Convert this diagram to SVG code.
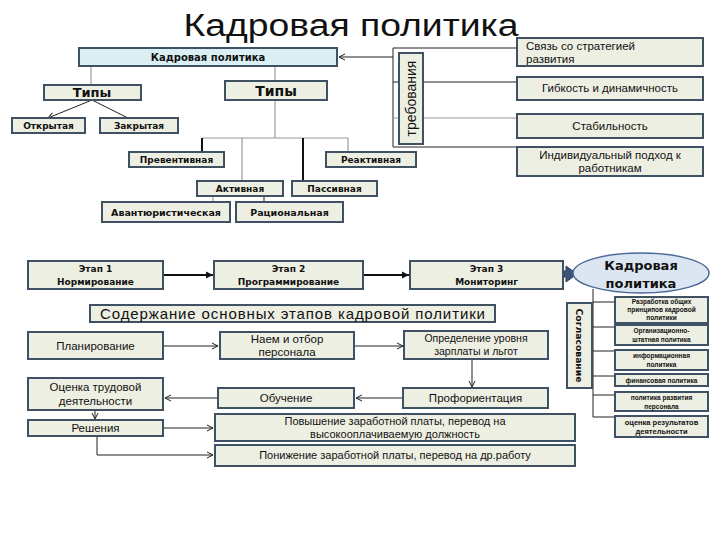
<svg xmlns="http://www.w3.org/2000/svg" width="720" height="540" viewBox="0 0 720 540">
<style>
.bx{fill:#eeefe3;stroke:#3f5163;stroke-width:2}
.bl{fill:#dbeef3;stroke:#3f5163;stroke-width:2}
.d{font-family:"DejaVu Sans",Verdana,sans-serif;font-weight:bold;fill:#111;text-anchor:middle}
.s{font-family:"Liberation Sans",Arial,sans-serif;fill:#111;text-anchor:middle}
.sl{font-family:"Liberation Sans",Arial,sans-serif;fill:#111;text-anchor:start}
.sb{font-family:"Liberation Sans",Arial,sans-serif;font-weight:bold;fill:#111;text-anchor:middle}
.ln{stroke:#222;stroke-width:1;fill:none}
.lg{stroke:#9a9a9a;stroke-width:1.2;fill:none}
.lk{stroke:#111;stroke-width:2;fill:none}
</style>
<defs>
<marker id="ao" markerWidth="8" markerHeight="8" refX="7" refY="4" orient="auto" markerUnits="userSpaceOnUse">
<path d="M1,1 L7,4 L1,7" fill="none" stroke="#222" stroke-width="1"/>
</marker>
<marker id="af" markerWidth="8" markerHeight="8" refX="7" refY="4" orient="auto" markerUnits="userSpaceOnUse">
<path d="M0,0.5 L7,4 L0,7.5 Z" fill="#111"/>
</marker>
</defs>
<rect width="720" height="540" fill="#fff"/>
<text x="351" y="36" font-family="Liberation Sans, Arial, sans-serif" font-size="31" fill="#111" text-anchor="middle" textLength="335" lengthAdjust="spacingAndGlyphs">Кадровая политика</text>

<g id="connectors">
<line class="lg" x1="91" y1="66" x2="91" y2="85"/>
<line class="ln" x1="92" y1="100" x2="48" y2="118" marker-end="url(#ao)"/>
<line class="ln" x1="92" y1="100" x2="128" y2="118"/>
<line class="lg" x1="275" y1="66" x2="275" y2="81"/>
<line class="lg" x1="275" y1="100" x2="275" y2="138"/>
<line class="lg" x1="202" y1="138" x2="348" y2="138"/>
<line class="lk" x1="202" y1="138" x2="202" y2="152"/>
<line class="lg" x1="242" y1="138" x2="242" y2="181"/>
<line class="lk" x1="303" y1="138" x2="303" y2="181"/>
<line class="lg" x1="348" y1="138" x2="348" y2="152"/>
<line class="lg" x1="213" y1="196" x2="213" y2="202"/>
<line class="ln" x1="264" y1="196" x2="264" y2="202"/>
<line class="ln" x1="393" y1="57" x2="339" y2="57" marker-end="url(#ao)"/>
<line class="ln" x1="393" y1="48" x2="393" y2="147"/>
<line class="ln" x1="393" y1="48" x2="517" y2="48"/>
<line class="ln" x1="393" y1="82" x2="517" y2="82"/>
<line class="lg" x1="393" y1="118" x2="517" y2="118"/>
<line class="ln" x1="393" y1="147" x2="517" y2="147"/>
<line class="lk" x1="163" y1="275" x2="213" y2="275" marker-end="url(#af)"/>
<line class="lk" x1="363" y1="275" x2="409" y2="275" marker-end="url(#af)"/>
<polygon points="563,271 566,271 566,266 577,274 566,282 566,277 563,277" fill="#3a5478" stroke="#2c3e58" stroke-width="1"/>
<line class="ln" x1="163" y1="346" x2="218" y2="346" marker-end="url(#ao)"/>
<line class="ln" x1="354" y1="346" x2="403" y2="346" marker-end="url(#ao)"/>
<line class="ln" x1="472" y1="359" x2="472" y2="387" marker-end="url(#ao)"/>
<line class="ln" x1="403" y1="398" x2="356" y2="398" marker-end="url(#ao)"/>
<line class="ln" x1="218" y1="398" x2="165" y2="398" marker-end="url(#ao)"/>
<line class="ln" x1="95" y1="410" x2="95" y2="419" marker-end="url(#ao)"/>
<line class="ln" x1="163" y1="428" x2="213" y2="428" marker-end="url(#ao)"/>
<path class="ln" d="M97,436 V455 H213" marker-end="url(#ao)"/>
<line class="ln" x1="593" y1="289" x2="593" y2="417"/>
<line class="ln" x1="593" y1="302" x2="615" y2="302"/>
<line class="ln" x1="593" y1="327" x2="615" y2="327"/>
<line class="ln" x1="593" y1="351" x2="615" y2="351"/>
<line class="ln" x1="593" y1="376" x2="615" y2="376"/>
<line class="ln" x1="593" y1="395" x2="615" y2="395"/>
<line class="ln" x1="593" y1="417" x2="615" y2="417"/>
</g>

<g id="n-kp"><rect class="bl" x="79" y="48" width="258" height="18"/><text class="d" x="208" y="61" font-size="10">Кадровая политика</text></g>
<g id="n-tipy1"><rect class="bx" x="44" y="85" width="97" height="15"/><text class="d" x="92" y="97" font-size="13">Типы</text></g>
<g id="n-otkr"><rect class="bx" x="12" y="118" width="73" height="15"/><text class="d" x="48.5" y="129" font-size="9">Открытая</text></g>
<g id="n-zakr"><rect class="bx" x="100" y="118" width="78" height="15"/><text class="d" x="139" y="129" font-size="9">Закрытая</text></g>
<g id="n-tipy2"><rect class="bx" x="225" y="81" width="102" height="19"/><text class="d" x="276" y="96" font-size="14">Типы</text></g>
<g id="n-prev"><rect class="bx" x="129" y="152" width="95" height="15"/><text class="d" x="176.5" y="163" font-size="9">Превентивная</text></g>
<g id="n-reakt"><rect class="bx" x="326" y="152" width="90" height="15"/><text class="d" x="371" y="163" font-size="9">Реактивная</text></g>
<g id="n-akt"><rect class="bx" x="197" y="181" width="86" height="15"/><text class="d" x="240" y="192" font-size="9">Активная</text></g>
<g id="n-pass"><rect class="bx" x="292" y="181" width="85" height="15"/><text class="d" x="334.5" y="192" font-size="9">Пассивная</text></g>
<g id="n-avant"><rect class="bx" x="102" y="202" width="128" height="20"/><text class="d" x="166" y="216" font-size="9.5">Авантюристическая</text></g>
<g id="n-rac"><rect class="bx" x="236" y="202" width="107" height="20"/><text class="d" x="289.5" y="216" font-size="9.5">Рациональная</text></g>

<g id="n-treb"><rect class="bx" x="399" y="53" width="24" height="91"/><text class="s" transform="translate(416,98.5) rotate(-90)" font-size="14">требования</text></g>
<g id="n-svyaz"><rect class="bx" x="517" y="38" width="186" height="28"/><text class="sl" x="526" y="50" font-size="11.5">Связь со стратегией</text><text class="sl" x="526" y="63" font-size="11.5">развития</text></g>
<g id="n-gibk"><rect class="bx" x="517" y="77" width="186" height="23"/><text class="s" x="610" y="92" font-size="11.5">Гибкость и динамичность</text></g>
<g id="n-stab"><rect class="bx" x="517" y="114" width="186" height="24"/><text class="s" x="610" y="130" font-size="11.5">Стабильность</text></g>
<g id="n-ind"><rect class="bx" x="517" y="147" width="186" height="29"/><text class="s" x="610" y="159" font-size="11.5">Индивидуальный подход к</text><text class="s" x="610" y="172" font-size="11.5">работникам</text></g>

<g id="n-etap1"><rect class="bx" x="28" y="261" width="135" height="28"/><text class="d" x="95.5" y="272" font-size="9">Этап 1</text><text class="d" x="95.5" y="285" font-size="9">Нормирование</text></g>
<g id="n-etap2"><rect class="bx" x="214" y="261" width="149" height="28"/><text class="d" x="288.5" y="272" font-size="9">Этап 2</text><text class="d" x="288.5" y="285" font-size="9">Программирование</text></g>
<g id="n-etap3"><rect class="bx" x="410" y="261" width="153" height="28"/><text class="d" x="486.5" y="272" font-size="9">Этап 3</text><text class="d" x="486.5" y="285" font-size="9">Мониторинг</text></g>
<g id="n-ellipse"><ellipse cx="641" cy="273" rx="68" ry="20" fill="#dce6f2" stroke="#4a6a98" stroke-width="1.5"/><text class="d" x="641" y="270" font-size="13">Кадровая</text><text class="d" x="641" y="288" font-size="13">политика</text></g>

<g id="n-head"><rect class="bx" x="90" y="305" width="405" height="17"/><text class="s" x="292.5" y="319" font-size="15" textLength="385" lengthAdjust="spacing">Содержание основных этапов кадровой политики</text></g>
<g id="n-plan"><rect class="bx" x="28" y="332" width="135" height="27"/><text class="s" x="95.5" y="350" font-size="11.5">Планирование</text></g>
<g id="n-naem"><rect class="bx" x="220" y="332" width="134" height="27"/><text class="s" x="287" y="343" font-size="11.5">Наем и отбор</text><text class="s" x="287" y="356" font-size="11.5">персонала</text></g>
<g id="n-opr"><rect class="bx" x="404" y="331" width="144" height="28"/><text class="s" x="476" y="342" font-size="10.5">Определение уровня</text><text class="s" x="476" y="355" font-size="10.5">зарплаты и льгот</text></g>
<g id="n-prof"><rect class="bx" x="403" y="388" width="145" height="20"/><text class="s" x="475.5" y="402" font-size="11.5">Профориентация</text></g>
<g id="n-obuch"><rect class="bx" x="218" y="388" width="136" height="20"/><text class="s" x="286" y="402" font-size="11.5">Обучение</text></g>
<g id="n-ocenka"><rect class="bx" x="28" y="378" width="135" height="32"/><text class="s" x="95.5" y="391" font-size="11.5">Оценка трудовой</text><text class="s" x="95.5" y="405" font-size="11.5">деятельности</text></g>
<g id="n-resh"><rect class="bx" x="28" y="420" width="135" height="16"/><text class="s" x="95.5" y="432" font-size="11.5">Решения</text></g>
<g id="n-povysh"><rect class="bx" x="215" y="414" width="360" height="27"/><text class="s" x="395" y="425" font-size="11">Повышение заработной платы, перевод на</text><text class="s" x="395" y="438" font-size="11">высокооплачиваемую должность</text></g>
<g id="n-ponizh"><rect class="bx" x="215" y="445" width="360" height="21"/><text class="s" x="395" y="459" font-size="11">Понижение заработной платы, перевод на др.работу</text></g>

<g id="n-sogl"><rect class="bx" x="567" y="303" width="25" height="85"/><text class="d" transform="translate(576,345.5) rotate(90)" font-size="9.5" textLength="74" lengthAdjust="spacingAndGlyphs">Согласование</text></g>
<g id="n-r1"><rect class="bx" x="615" y="297" width="93" height="26"/><text class="sb" x="661.5" y="304" font-size="6.5">Разработка общих</text><text class="sb" x="661.5" y="312" font-size="6.5">принципов кадровой</text><text class="sb" x="661.5" y="320" font-size="6.5">политики</text></g>
<g id="n-r2"><rect class="bx" x="615" y="325" width="93" height="20"/><text class="sb" x="661.5" y="333" font-size="6.5">Организационно-</text><text class="sb" x="661.5" y="342" font-size="6.5">штатная политика</text></g>
<g id="n-r3"><rect class="bx" x="615" y="350" width="93" height="20"/><text class="sb" x="661.5" y="358" font-size="6.5">информационная</text><text class="sb" x="661.5" y="367" font-size="6.5">политика</text></g>
<g id="n-r4"><rect class="bx" x="615" y="374" width="93" height="12"/><text class="sb" x="661.5" y="382.5" font-size="6.5">финансовая политика</text></g>
<g id="n-r5"><rect class="bx" x="615" y="392" width="93" height="19"/><text class="sb" x="661.5" y="400" font-size="6.5">политика развития</text><text class="sb" x="661.5" y="408.5" font-size="6.5">персонала</text></g>
<g id="n-r6"><rect class="bx" x="615" y="416" width="93" height="21"/><text class="sb" x="661.5" y="425" font-size="7.5">оценка результатов</text><text class="sb" x="661.5" y="434" font-size="7.5">деятельности</text></g>
</svg>
